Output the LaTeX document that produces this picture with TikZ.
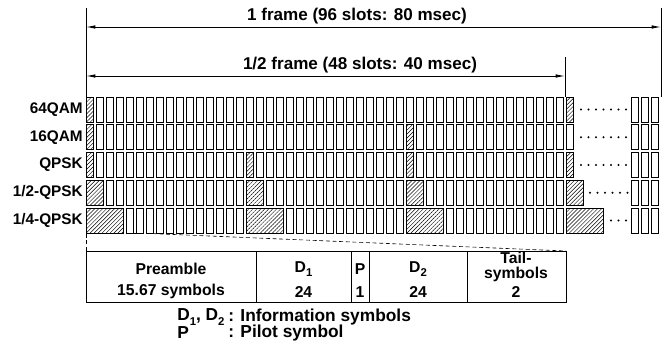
\documentclass[tikz,border=0pt]{standalone}
\usepackage{fontspec}
\setmainfont{Liberation Sans}
\usetikzlibrary{arrows.meta,patterns.meta}
\tikzset{
  slotbox/.style={draw=black, line width=0.7pt, fill=white},
  hatchbox/.style={draw=black, line width=0.7pt, pattern={Lines[angle=45,distance=2.1pt,line width=0.35pt]}},
  rowlbl/.style={font=\bfseries\fontsize{11.5}{12}\selectfont, anchor=east, inner sep=0pt},
  framelbl/.style={font=\bfseries\fontsize{12.8}{14}\selectfont, inner sep=0pt},
  celltxt/.style={font=\bfseries\fontsize{11.8}{12}\selectfont, inner sep=0pt, align=center},
  legtxt/.style={font=\bfseries\fontsize{13}{13}\selectfont, inner sep=0pt, anchor=west},
  dimline/.style={line width=0.6pt, {Latex[length=7pt,width=2.6pt]}-{Latex[length=7pt,width=2.6pt]}},
  guide/.style={line width=0.5pt},
  dotmark/.style={fill=black, draw=none},
  tabline/.style={line width=0.65pt},
  projline/.style={line width=0.45pt, densely dashed}
}
\newcommand{\sub}[1]{\raisebox{-0.5ex}{\fontsize{8.5}{8.5}\selectfont #1}}
\begin{document}
\begin{tikzpicture}[x=0.75pt,y=-0.75pt]
\useasboundingbox (0,0) rectangle (665,351);

% guide lines and dimension arrows
\coordinate (L0) at (86,8);
\coordinate (L1) at (86,97);
\coordinate (R0) at (661,8);
\coordinate (R1) at (661,97);
\coordinate (H0) at (565,57);
\coordinate (H1) at (565,97);
\draw[guide] (L0) -- (L1);
\draw[guide] (R0) -- (R1);
\draw[guide] (H0) -- (H1);
\coordinate (A1l) at (86,27);
\coordinate (A1r) at (661,27);
\coordinate (A2l) at (86,76);
\coordinate (A2r) at (565,76);
\draw[dimline] (A1l) -- (A1r);
\draw[dimline] (A2l) -- (A2r);
\node[framelbl] (f1) at (357,16) {1 frame (96 slots: 80 msec)};
\node[framelbl] (f2) at (360,65) {1/2 frame (48 slots: 40 msec)};

% rows: index, label, preamble length, period, last slot, first dot x, number of dots
\foreach \r/\lab/\p/\T/\last/\dx/\nd in {0/64QAM/1/48/48/581/7, 1/16QAM/1/32/48/581/7, 2/QPSK/1/16/48/581/7, 3/1\slash 2-QPSK/2/16/49/590/6, 4/1\slash 4-QPSK/4/16/51/611/3}{
  \pgfmathsetmacro\top{97+27.75*\r}
  \node[rowlbl] (lab\r) at (83,\top+12.5) {\lab};
  \foreach \k in {0,...,\last}{
    \pgfmathtruncatemacro\m{mod(\k,\T)}
    \ifnum\m=0
      \filldraw[hatchbox] (86.5+10*\k,\top) rectangle ++(10*\p-2.8,25);
    \else
      \ifnum\m<\p\relax\else
        \draw[slotbox] (86.5+10*\k,\top) rectangle ++(7.2,25);
      \fi
    \fi
  }
  \pgfmathtruncatemacro\ndm{\nd-1}
  \foreach \i in {0,...,\ndm}{
    \fill[dotmark] (\dx+7.5*\i,\top+12.5) circle (1.2);
  }
  \foreach \xx in {631,641,651}{
    \draw[slotbox] (\xx,\top) rectangle ++(7.2,25);
  }
}

% projection to the table
\coordinate (P0) at (86,233.5);
\coordinate (P1) at (150,233.5);
\coordinate (T0) at (86,251);
\coordinate (T1) at (566,251);
\draw[projline] (P0) -- (T0);
\draw[projline] (P0) -- (P1) -- (T1);

% table
\draw[tabline] (86,251) rectangle (566,302);
\foreach \xx in {256,351,369,467}{
  \draw[tabline] (\xx,251) -- (\xx,302);
}
\node[celltxt] (pre) at (171,269) {Preamble};
\node[celltxt] (pren) at (171,291) {15.67 symbols};
\node[celltxt] (d1) at (303.5,269) {D\sub{1}};
\node[celltxt] (d1n) at (303.5,292) {24};
\node[celltxt] (pp) at (360,269) {P};
\node[celltxt] (ppn) at (360,292) {1};
\node[celltxt] (d2) at (418,269) {D\sub{2}};
\node[celltxt] (d2n) at (418,292) {24};
\node[celltxt, font=\bfseries\fontsize{11.8}{11}\selectfont] (tail) at (516,267) {Tail-\\symbols};
\node[celltxt] (tailn) at (516,292) {2};

% legend
\node[legtxt] (lg1) at (177,317) {D\sub{1}, D\sub{2}};
\node[legtxt] (lg1t) at (228,317) {: Information symbols};
\node[legtxt] (lg2) at (177,333) {P};
\node[legtxt] (lg2t) at (228,333) {: Pilot symbol};
\end{tikzpicture}
\end{document}
